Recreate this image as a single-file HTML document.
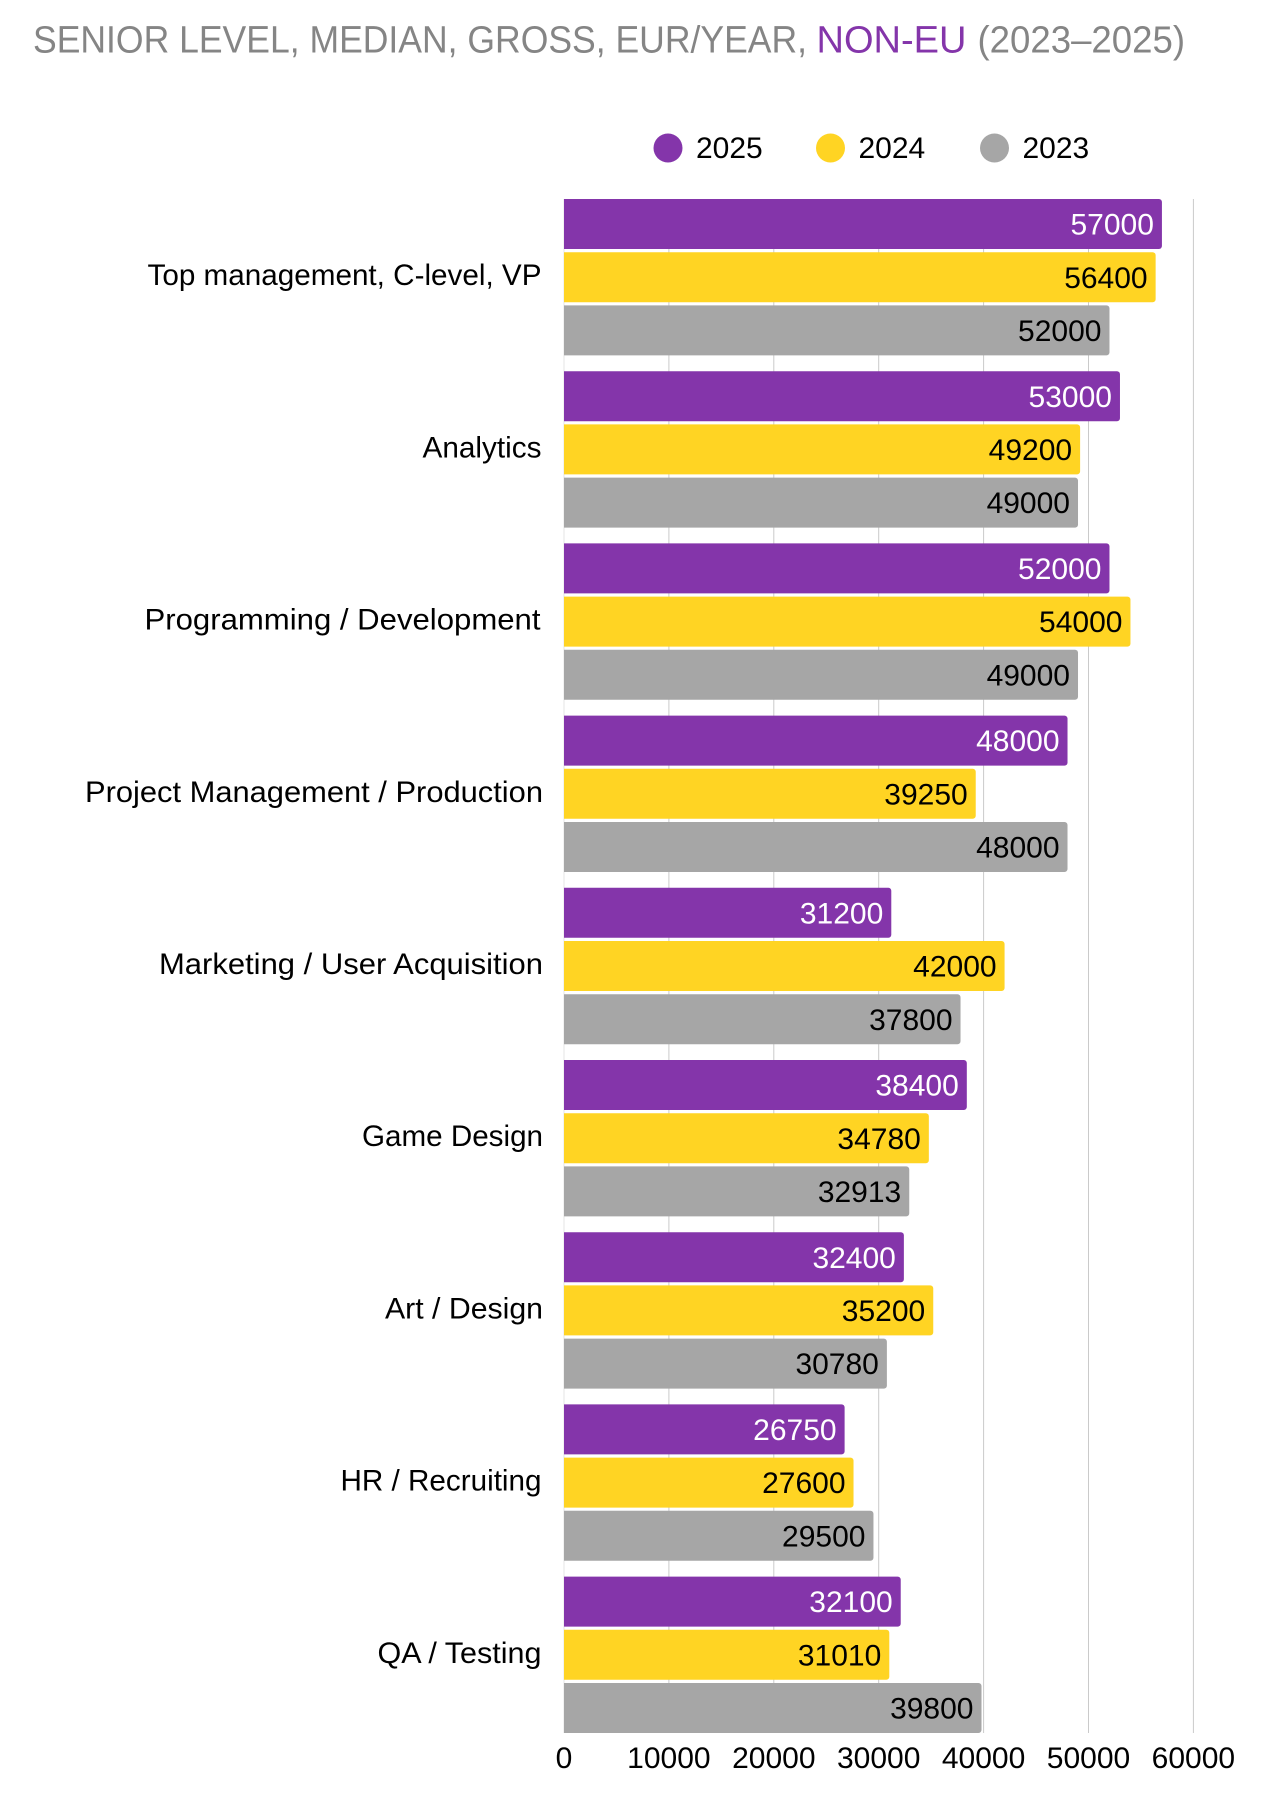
<!DOCTYPE html>
<html>
<head>
<meta charset="utf-8">
<title>Senior level median gross salary, Non-EU</title>
<style>
html,body{margin:0;padding:0;background:#fff;width:1274px;height:1798px;overflow:hidden}
svg{display:block}
text{font-family:"Liberation Sans",sans-serif}
</style>
</head>
<body>
<svg id="chart" xmlns="http://www.w3.org/2000/svg" width="1274" height="1798" viewBox="0 0 1274 1798">
  <g font-size="38">
    <text x="33" y="52.7" fill="#858585" textLength="774" lengthAdjust="spacingAndGlyphs">SENIOR LEVEL, MEDIAN, GROSS, EUR/YEAR,</text>
    <text x="816.5" y="52.7" fill="#8435AA" textLength="150" lengthAdjust="spacingAndGlyphs">NON-EU</text>
    <text x="977.5" y="52.7" fill="#858585" textLength="207.5" lengthAdjust="spacingAndGlyphs">(2023–2025)</text>
  </g>
  <g id="grid"></g>
  <g id="bars"></g>
  <g id="cats"></g>
  <g id="ticks"></g>
  <g id="legend"></g>
</svg>
<script>
const categories = ["Top management, C-level, VP","Analytics","Programming / Development","Project Management / Production","Marketing / User Acquisition","Game Design","Art / Design","HR / Recruiting","QA / Testing"];
const seriesNames = ["2025","2024","2023"];
const values2025 = [57000,53000,52000,48000,31200,38400,32400,26750,32100];
const values2024 = [56400,49200,54000,39250,42000,34780,35200,27600,31010];
const values2023 = [52000,49000,49000,48000,37800,32913,30780,29500,39800];
const tickValues = [0,10000,20000,30000,40000,50000,60000];

const NS = "http://www.w3.org/2000/svg";
const allSeries = [values2025, values2024, values2023];
const colors = ["#8435AA", "#FFD423", "#A6A6A6"];
const labelColors = ["#fff", "#000", "#000"];
const legendCircleX = [668, 830.5, 994.5];
const categoryLabelWidths = [394, 119, 396, 458, 384, 181, 158, 201, 164];
const categoryLabelEnds = [541.5, 541.5, 540.5, 543, 543, 543, 543, 541.5, 541.5];
const X0 = 564, PX = 0.01049, TOP = 199, PITCH = 172.2, BAR_H = 50, BAR_STEP = 53.2, BOTTOM = 1733;
const FS = 30;
const xScale = v => X0 + v * PX;
const make = (tag, attrs, parent, txt) => {
  const e = document.createElementNS(NS, tag);
  for (const k in attrs) e.setAttribute(k, attrs[k]);
  if (txt !== undefined) e.textContent = txt;
  parent.appendChild(e);
  return e;
};
const grid = document.getElementById("grid");
const ticks = document.getElementById("ticks");
const bars = document.getElementById("bars");
const cats = document.getElementById("cats");
const legend = document.getElementById("legend");

tickValues.forEach(t => {
  const x = xScale(t);
  const line = make("line", {x1:x, x2:x, y1:TOP, y2:BOTTOM, stroke: t === 0 ? "#e6e6e6" : "#cacaca", "stroke-width":1}, grid);
  
  
  const lab = make("text", {x:x, y:1768, "font-size":FS, "text-anchor":"middle", fill:"#000"}, ticks, String(t));
  
  
});

categories.forEach((c, i) => {
  const gy = TOP + i * PITCH;
  const w = categoryLabelWidths[i];
  const lab = make("text", {x:categoryLabelEnds[i] - w, y:gy + 86.2, "font-size":FS, fill:"#000", textLength:w, lengthAdjust:"spacingAndGlyphs"}, cats, c);
  
  
  allSeries.forEach((vals, s) => {
    const w = xScale(vals[i]) - X0;
    const y = gy + s * BAR_STEP;
    const r = 3;
    const d = `M${X0} ${y}H${X0 + w - r}a${r} ${r} 0 0 1 ${r} ${r}V${y + BAR_H - r}a${r} ${r} 0 0 1 ${-r} ${r}H${X0}Z`;
    const bar = make("path", {d:d, fill:colors[s]}, bars);
    
    
    const val = make("text", {x:X0 + w - 8, y:y + 35.6, "font-size":FS, "text-anchor":"end", fill:labelColors[s]}, bars, String(vals[i]));
    
    
  });
});

seriesNames.forEach((n, i) => {
  const cx = legendCircleX[i];
  const dot = make("circle", {cx:cx, cy:148, r:14.5, fill:colors[i]}, legend);
  
  
  const lab = make("text", {x:cx + 28, y:158, "font-size":FS, fill:"#000"}, legend, n);
  
  
});
</script>
</body>
</html>
